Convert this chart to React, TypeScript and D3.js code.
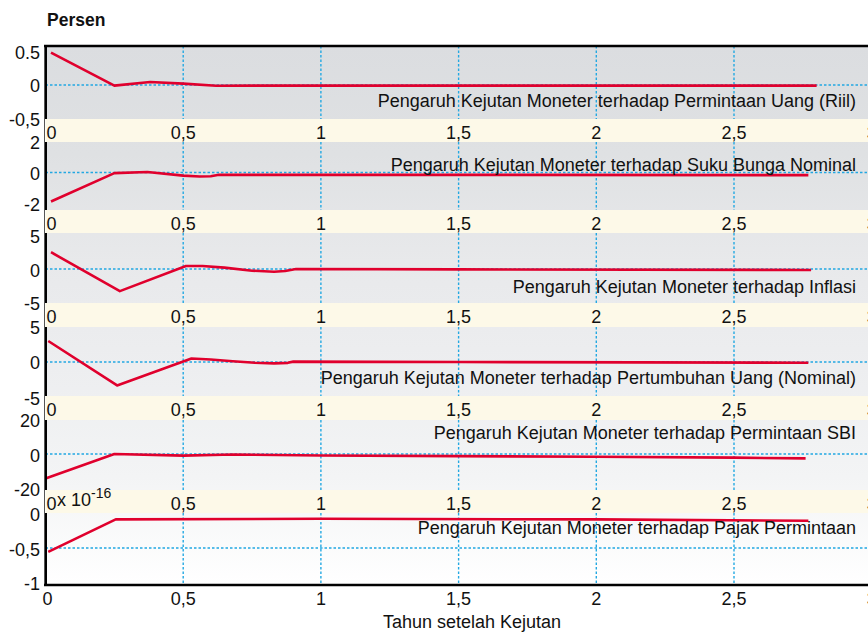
import React from "react";
import * as d3 from "d3";

// ---------- data ----------
const xTickValues = [0, 0.5, 1, 1.5, 2, 2.5, 3];
const xTickLabels = ["0", "0,5", "1", "1,5", "2", "2,5", "3"];
const xGridValues = [0.5, 1, 1.5, 2, 2.5, 3];

const panelTitles = [
  "Pengaruh Kejutan Moneter terhadap Permintaan Uang (Riil)",
  "Pengaruh Kejutan Moneter terhadap Suku Bunga Nominal",
  "Pengaruh Kejutan Moneter terhadap Inflasi",
  "Pengaruh Kejutan Moneter terhadap Pertumbuhan Uang (Nominal)",
  "Pengaruh Kejutan Moneter terhadap Permintaan SBI",
  "Pengaruh Kejutan Moneter terhadap Pajak Permintaan",
];

const yTickValues = [
  [0.5, 0, -0.5],
  [2, 0, -2],
  [5, 0, -5],
  [5, 0, -5],
  [20, 0, -20],
  [0, -0.5, -1],
];
const yTickLabels = [
  ["0.5", "0", "-0,5"],
  ["2", "0", "-2"],
  ["5", "0", "-5"],
  ["5", "0", "-5"],
  ["20", "0", "-20"],
  ["0", "-0,5", "-1"],
];
const yGridValues = [0, 0, 0, 0, 0, -0.5];

// impulse responses: [tahun, persen]
const permintaanUangRiil: [number, number][] = [
  [0.02, 0.49], [0.25, -0.01], [0.38, 0.045], [0.5, 0.02], [0.62, -0.012],
  [0.8, -0.01], [1.5, -0.01], [2.8, -0.01],
];
const sukuBungaNominal: [number, number][] = [
  [0.02, -1.87], [0.25, -0.04], [0.37, 0.03], [0.5, -0.2], [0.56, -0.26],
  [0.6, -0.24], [0.63, -0.15], [1.5, -0.15], [2.77, -0.17],
];
const inflasi: [number, number][] = [
  [0.02, 2.5], [0.27, -3.3], [0.51, 0.45], [0.57, 0.45], [0.65, 0.2],
  [0.75, -0.25], [0.83, -0.4], [0.87, -0.3], [0.91, 0.0], [1.5, -0.05],
  [2.78, -0.15],
];
const pertumbuhanUang: [number, number][] = [
  [0.01, 2.96], [0.26, -3.3], [0.53, 0.5], [0.6, 0.35], [0.68, 0.1],
  [0.76, -0.1], [0.83, -0.2], [0.88, -0.12], [0.9, 0.05], [1.5, 0.0],
  [2.77, -0.1],
];
const permintaanSBI: [number, number][] = [
  [0.0, -14.2], [0.25, 0.0], [0.5, -0.9], [0.68, -0.3], [1.0, -0.8],
  [1.5, -1.2], [2.0, -1.6], [2.5, -2.1], [2.76, -2.5],
];
const pajakPermintaan: [number, number][] = [
  [0.01, -0.557], [0.255, -0.08], [1.0, -0.07], [2.0, -0.08], [2.77, -0.1],
];

const seriesList = [
  permintaanUangRiil,
  sukuBungaNominal,
  inflasi,
  pertumbuhanUang,
  permintaanSBI,
  pajakPermintaan,
];

// ---------- layout ----------
const W = 868;
const H = 632;
const FONT = "'Liberation Sans', Arial, Helvetica, sans-serif";
const FS = 18;
const panelTop = [46, 142, 233, 327, 420, 513];
const panelBottom = [119, 210, 303, 396, 490, 585];
const yDomains: [number, number][] = [
  [-0.515, 0.59],
  [-2.42, 1.97],
  [-5.07, 5.37],
  [-4.79, 4.93],
  [-20.9, 19.8],
  [-1.043, 0.014],
];
const titleCenterY = [101, 165, 287, 378, 433, 528];
const RED = "#e0002d";
const GRID = "#22a8e2";

export default function App() {
  const x = d3.scaleLinear().domain([0, 3]).range([45.5, 871.7]);
  const left = x(0);
  const line = d3.line<[number, number]>().curve(d3.curveLinear);

  return (
    <svg
      width={W}
      height={H}
      style={{ position: "absolute", left: 0, top: 0, background: "#ffffff" }}
      fontFamily={FONT}
    >
      <defs>
        <linearGradient id="bg" gradientUnits="userSpaceOnUse" x1="0" y1="46" x2="0" y2="585">
          <stop offset="0" stopColor="#dbdde0" />
          <stop offset="0.2" stopColor="#dfe1e3" />
          <stop offset="0.4" stopColor="#e8e9eb" />
          <stop offset="0.6" stopColor="#edeef0" />
          <stop offset="0.8" stopColor="#f3f4f5" />
          <stop offset="1" stopColor="#ffffff" />
        </linearGradient>
        {panelTop.map((t, i) => (
          <clipPath id={`clip${i}`} key={i}>
            <rect x={left} y={t} width={W - left} height={panelBottom[i] - t} />
          </clipPath>
        ))}
      </defs>

      <text x={47} y={26} fontSize={17.5} fontWeight="bold" fill="#111">
        Persen
      </text>

      {panelTop.map((top, i) => {
        const bottom = panelBottom[i];
        const y = d3.scaleLinear().domain(yDomains[i]).range([bottom, top]);
        const pts = seriesList[i].map(([t, v]) => [x(t), y(v)] as [number, number]);
        const nextTop = i < 5 ? panelTop[i + 1] : bottom;
        return (
          <g key={i}>
            <rect x={left} y={top} width={W - left} height={bottom - top} fill="url(#bg)" />
            {i < 5 && (
              <rect x={left} y={bottom} width={W - left} height={nextTop - bottom} fill="#fdf9e8" />
            )}
            <g clipPath={`url(#clip${i})`}>
              {xGridValues.map((g) => (
                <line
                  key={g}
                  x1={x(g)}
                  x2={x(g)}
                  y1={top}
                  y2={bottom}
                  stroke={GRID}
                  strokeWidth={1.4}
                  strokeDasharray="2.5,2"
                />
              ))}
              <line
                x1={left}
                x2={W}
                y1={y(yGridValues[i])}
                y2={y(yGridValues[i])}
                stroke={GRID}
                strokeWidth={1.4}
                strokeDasharray="2.5,2"
              />
              <path d={line(pts) || ""} fill="none" stroke={RED} strokeWidth={2.6} strokeLinejoin="round" />
            </g>
            <text
              x={856}
              y={titleCenterY[i]}
              textAnchor="end"
              dominantBaseline="central"
              fontSize={FS}
              fill="#111"
            >
              {panelTitles[i]}
            </text>
            {yTickValues[i].map((v, k) => (
              <text
                key={k}
                x={40}
                y={y(v) + 1.5}
                textAnchor="end"
                dominantBaseline="central"
                fontSize={FS}
                fill="#111"
              >
                {yTickLabels[i][k]}
              </text>
            ))}
            {i < 5 &&
              xTickValues.map((v, k) => (
                <text
                  key={k}
                  x={k === 0 ? x(v) + 6 : x(v)}
                  y={bottom + 14}
                  textAnchor="middle"
                  dominantBaseline="central"
                  fontSize={FS}
                  fill="#111"
                >
                  {xTickLabels[k]}
                </text>
              ))}
            <line x1={left} x2={left} y1={top} y2={bottom} stroke="#000" strokeWidth={3} />
          </g>
        );
      })}

      {/* thin left edge through label bands */}
      <line x1={left - 1} x2={left - 1} y1={46} y2={585} stroke="#555" strokeWidth={1} />

      {/* exponent label for last panel */}
      <text x={57} y={506} fontSize={FS} fill="#111">
        x 10
        <tspan dy={-8} fontSize={14}>
          -16
        </tspan>
      </text>

      {/* top border and bottom axis */}
      <line x1={left - 1.5} x2={W} y1={46} y2={46} stroke="#000" strokeWidth={2.5} />
      <line x1={left - 1.5} x2={W} y1={585} y2={585} stroke="#000" strokeWidth={2.5} />
      {xTickValues.map((v, k) => (
        <text
          key={k}
          x={k === 0 ? x(v) + 2 : x(v)}
          y={599}
          textAnchor="middle"
          dominantBaseline="central"
          fontSize={FS}
          fill="#111"
        >
          {xTickLabels[k]}
        </text>
      ))}
      <text x={472} y={622} textAnchor="middle" dominantBaseline="central" fontSize={FS} fill="#111">
        Tahun setelah Kejutan
      </text>
    </svg>
  );
}
